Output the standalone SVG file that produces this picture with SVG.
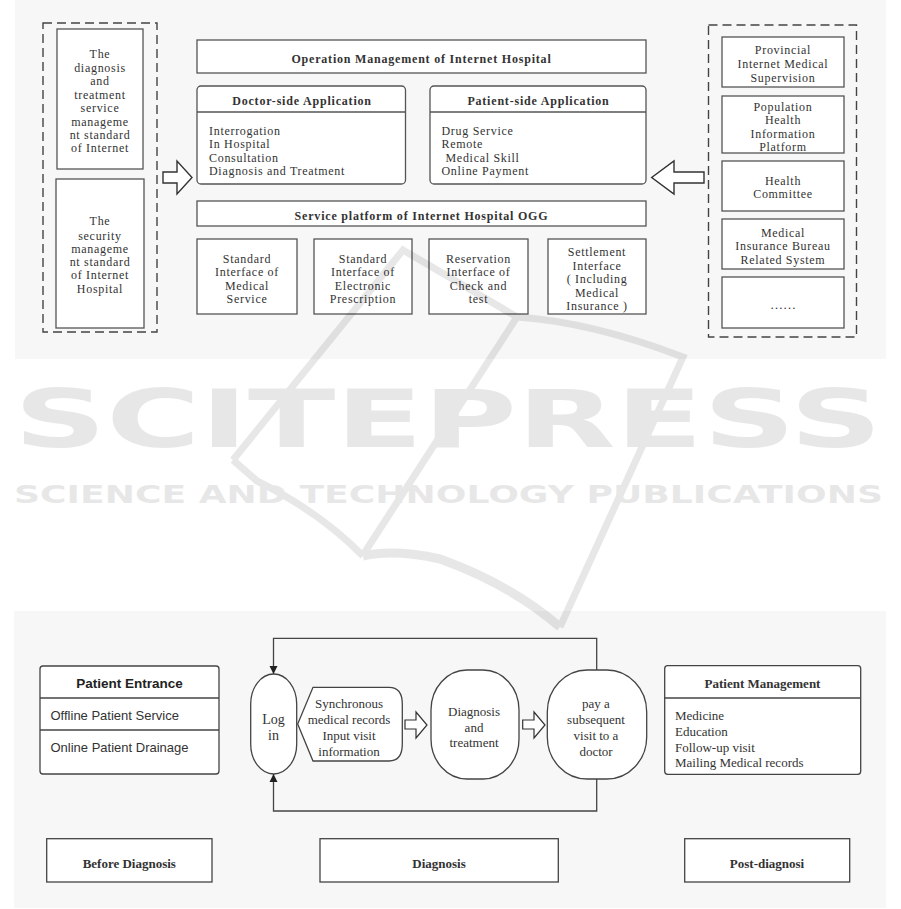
<svg xmlns="http://www.w3.org/2000/svg" width="901" height="909" viewBox="0 0 901 909">
<defs>
<style>
.panel{fill:#f7f7f7;stroke:none}
.box{fill:#fff;stroke:#555;stroke-width:1.3}
.dash{fill:none;stroke:#444;stroke-width:1.4;stroke-dasharray:9 5}
.hollow{fill:#fff;stroke:#333;stroke-width:1.4;stroke-linejoin:miter}
.line{fill:none;stroke:#444;stroke-width:1.3}
.t{font-family:"Liberation Serif","Times New Roman",serif;font-size:13px;fill:#333}
.u{font-family:"Liberation Serif","Times New Roman",serif;font-size:12px;letter-spacing:0.7px;fill:#333}
.ub{font-family:"Liberation Serif","Times New Roman",serif;font-size:12px;letter-spacing:0.8px;font-weight:bold;fill:#333}
.tc{text-anchor:middle}
.b{font-weight:bold}
.s{font-family:"Liberation Sans",Arial,sans-serif;font-size:13px;fill:#333}
.wm{font-family:"DejaVu Sans",sans-serif;fill:#000}
</style>
<marker id="ah" viewBox="0 0 10 10" refX="10" refY="5" markerWidth="8" markerHeight="10" markerUnits="userSpaceOnUse" orient="auto">
<path d="M0,0 L10,5 L0,10 Z" fill="#222"/>
</marker>
</defs>
<rect width="901" height="909" fill="#fff"/>
<rect class="panel" x="15" y="0" width="871" height="359"/>
<rect class="panel" x="14" y="611" width="872" height="297"/>

<!-- top diagram -->
<g id="left-standards">
<rect class="dash" x="43" y="23" width="114" height="309"/>
<g id="std-diagnosis">
<rect class="box" x="57" y="29" width="86" height="140"/>
<text class="u tc"><tspan x="100" y="58">The</tspan><tspan x="100" y="72">diagnosis</tspan><tspan x="100" y="85">and</tspan><tspan x="100" y="99">treatment</tspan><tspan x="100" y="112">service</tspan><tspan x="100" y="126">manageme</tspan><tspan x="100" y="139">nt standard</tspan><tspan x="100" y="152">of Internet</tspan></text>
</g>
<g id="std-security">
<rect class="box" x="56" y="179" width="88" height="149"/>
<text class="u tc"><tspan x="100" y="225">The</tspan><tspan x="100" y="240">security</tspan><tspan x="100" y="253">manageme</tspan><tspan x="100" y="266">nt standard</tspan><tspan x="100" y="279">of Internet</tspan><tspan x="100" y="293">Hospital</tspan></text>
</g>
</g>

<g id="operation-management">
<rect class="box" x="197" y="40" width="449" height="33"/>
<text class="ub tc" x="421.5" y="63">Operation Management of Internet Hospital</text>
</g>

<g id="doctor-side">
<rect class="box" x="197" y="86" width="208.5" height="98" rx="4"/>
<line class="line" x1="197" y1="112" x2="405.5" y2="112" style="stroke:#555"/>
<text class="ub tc" x="302" y="105">Doctor-side Application</text>
<text class="u"><tspan x="209" y="134.5">Interrogation</tspan><tspan x="209" y="148">In Hospital</tspan><tspan x="209" y="161.5">Consultation</tspan><tspan x="209" y="174.5">Diagnosis and Treatment</tspan></text>
</g>

<g id="patient-side">
<rect class="box" x="430" y="86" width="216" height="98" rx="4"/>
<line class="line" x1="430" y1="112" x2="646" y2="112" style="stroke:#555"/>
<text class="ub tc" x="538.5" y="105">Patient-side Application</text>
<text class="u"><tspan x="441.5" y="134.5">Drug Service</tspan><tspan x="441.5" y="148">Remote</tspan><tspan x="445.5" y="161.5">Medical Skill</tspan><tspan x="441.5" y="174.5">Online Payment</tspan></text>
</g>

<g id="service-platform">
<rect class="box" x="197" y="201" width="449" height="25"/>
<text class="ub tc" x="421.5" y="220">Service platform of Internet Hospital OGG</text>
</g>

<g id="if-medical">
<rect class="box" x="197" y="239" width="100" height="75"/>
<text class="u tc"><tspan x="247" y="262.5">Standard</tspan><tspan x="247" y="276">Interface of</tspan><tspan x="247" y="289.5">Medical</tspan><tspan x="247" y="303">Service</tspan></text>
</g>
<g id="if-prescription">
<rect class="box" x="314" y="239" width="98" height="75"/>
<text class="u tc"><tspan x="363" y="262.5">Standard</tspan><tspan x="363" y="276">Interface of</tspan><tspan x="363" y="289.5">Electronic</tspan><tspan x="363" y="303">Prescription</tspan></text>
</g>
<g id="if-reservation">
<rect class="box" x="429" y="239" width="99" height="75"/>
<text class="u tc"><tspan x="478.5" y="262.5">Reservation</tspan><tspan x="478.5" y="276">Interface of</tspan><tspan x="478.5" y="289.5">Check and</tspan><tspan x="478.5" y="303">test</tspan></text>
</g>
<g id="if-settlement">
<rect class="box" x="548" y="239" width="98" height="75"/>
<text class="u tc"><tspan x="597" y="256">Settlement</tspan><tspan x="597" y="269.5">Interface</tspan><tspan x="597" y="283">( Including</tspan><tspan x="597" y="296.5">Medical</tspan><tspan x="597" y="310">Insurance )</tspan></text>
</g>

<g id="right-systems">
<rect class="dash" x="708.5" y="25" width="148" height="312"/>
<g id="sys-provincial">
<rect class="box" x="722" y="37" width="122" height="50"/>
<text class="u tc"><tspan x="783" y="54">Provincial</tspan><tspan x="783" y="68">Internet Medical</tspan><tspan x="783" y="81.5">Supervision</tspan></text>
</g>
<g id="sys-population">
<rect class="box" x="722" y="96" width="122" height="57"/>
<text class="u tc"><tspan x="783" y="110.5">Population</tspan><tspan x="783" y="124">Health</tspan><tspan x="783" y="137.5">Information</tspan><tspan x="783" y="151">Platform</tspan></text>
</g>
<g id="sys-health">
<rect class="box" x="722" y="161" width="122" height="50"/>
<text class="u tc"><tspan x="783" y="185">Health</tspan><tspan x="783" y="198">Committee</tspan></text>
</g>
<g id="sys-insurance">
<rect class="box" x="722" y="219" width="122" height="50"/>
<text class="u tc"><tspan x="783" y="236.5">Medical</tspan><tspan x="783" y="250">Insurance Bureau</tspan><tspan x="783" y="263.5">Related System</tspan></text>
</g>
<g id="sys-more">
<rect class="box" x="722" y="277" width="122" height="51"/>
<text class="t tc" x="783" y="309">……</text>
</g>
</g>

<!-- bottom diagram -->
<g id="patient-entrance">
<rect class="box" x="40" y="666" width="179" height="108" rx="3" style="stroke:#444"/>
<line class="line" x1="40" y1="698" x2="219" y2="698"/>
<line class="line" x1="40" y1="730" x2="219" y2="730"/>
<text class="s tc b" x="129.5" y="688" style="font-size:13.5px;fill:#222">Patient Entrance</text>
<text class="s" x="50.5" y="720">Offline Patient Service</text>
<text class="s" x="50.5" y="752">Online Patient Drainage</text>
</g>

<g id="login">
<rect x="250.7" y="674" width="46" height="100" rx="23" ry="30" fill="#fff" stroke="#444" stroke-width="1.3"/>
<text class="t tc" style="font-size:14px"><tspan x="273.5" y="724">Log</tspan><tspan x="273.5" y="740">in</tspan></text>
</g>

<g id="sync-records">
<path d="M297.7,724 L313,687.3 L389,687.3 Q402.3,687.3 402.3,704 L402.3,744 Q402.3,761 389,761 L313,761 Z" fill="#fff" stroke="#444" stroke-width="1.3"/>
<text class="t tc"><tspan x="349" y="708">Synchronous</tspan><tspan x="349" y="724">medical records</tspan><tspan x="349" y="740">Input visit</tspan><tspan x="349" y="756">information</tspan></text>
</g>

<g id="diagnosis-treatment">
<rect x="431" y="670" width="88" height="109" rx="36" ry="40" fill="#fff" stroke="#444" stroke-width="1.3"/>
<text class="t tc"><tspan x="474" y="716">Diagnosis</tspan><tspan x="474" y="732">and</tspan><tspan x="474" y="747">treatment</tspan></text>
</g>

<g id="subsequent-visit">
<rect x="547.3" y="670" width="99.4" height="109" rx="40" ry="42" fill="#fff" stroke="#444" stroke-width="1.3"/>
<text class="t tc"><tspan x="596" y="708">pay a</tspan><tspan x="596" y="724">subsequent</tspan><tspan x="596" y="740">visit to a</tspan><tspan x="596" y="756">doctor</tspan></text>
</g>

<g id="patient-management">
<rect class="box" x="664.7" y="665.7" width="196" height="108.6" rx="3" style="stroke:#444"/>
<line class="line" x1="664.7" y1="698" x2="860.7" y2="698"/>
<text class="t tc b" x="762.5" y="688">Patient Management</text>
<text class="t"><tspan x="675" y="720">Medicine</tspan><tspan x="675" y="735.5">Education</tspan><tspan x="675" y="751.5">Follow-up visit</tspan><tspan x="675" y="766.5">Mailing Medical records</tspan></text>
</g>

<g id="before-diagnosis">
<rect class="box" x="46.7" y="838.7" width="165.3" height="43.3" style="stroke:#444"/>
<text class="t tc b" x="129.3" y="867.5">Before Diagnosis</text>
</g>
<g id="diagnosis-stage">
<rect class="box" x="320" y="838.7" width="238.3" height="43.3" style="stroke:#444"/>
<text class="t tc b" x="439" y="867.5">Diagnosis</text>
</g>
<g id="post-diagnosis">
<rect class="box" x="684.7" y="838.7" width="165" height="43.3" style="stroke:#444"/>
<text class="t tc b" x="767" y="867.5">Post-diagnosi</text>
</g>

<g id="connectors">
<path class="hollow" d="M163,172 L177,172 L177,161 L192,177.5 L177,194 L177,183 L163,183 Z"/>
<path class="hollow" d="M704,172 L674,172 L674,161 L651.7,177.5 L674,194 L674,183 L704,183 Z"/>
<path class="hollow" style="stroke-width:1.2" d="M405,720 L416,720 L416,712 L427,725 L416,738 L416,729 L405,729 Z"/>
<path class="hollow" style="stroke-width:1.2" d="M522.7,720 L534,720 L534,712 L545,725 L534,738 L534,729 L522.7,729 Z"/>
<path class="line" d="M596.7,670 L596.7,638.3 L273.5,638.3 L273.5,674" marker-end="url(#ah)"/>
<path class="line" d="M596.7,779 L596.7,811 L273.5,811 L273.5,774" marker-end="url(#ah)"/>
</g>

<g id="watermark" opacity="0.09">
<g fill="none" stroke="#000" stroke-width="7" stroke-linecap="butt" stroke-linejoin="miter">
<path d="M233,460 L403,250 L517,317"/>
<path d="M517,317 L363,555"/>
<path d="M517,317 Q592,322 683,357 L560,627"/>
<path d="M233,460 L257,481 Q320,512 363,556"/>
<path d="M363,556 Q395,549 440,559 Q510,584 560,627" stroke-width="9"/>
</g>
<text class="wm" x="14" y="447" font-size="81" font-weight="bold" textLength="868" lengthAdjust="spacingAndGlyphs">SCITEPRESS</text>
<text class="wm" x="14" y="503" font-size="25" font-weight="bold" textLength="869" lengthAdjust="spacingAndGlyphs">SCIENCE AND TECHNOLOGY PUBLICATIONS</text>
</g>
</svg>
